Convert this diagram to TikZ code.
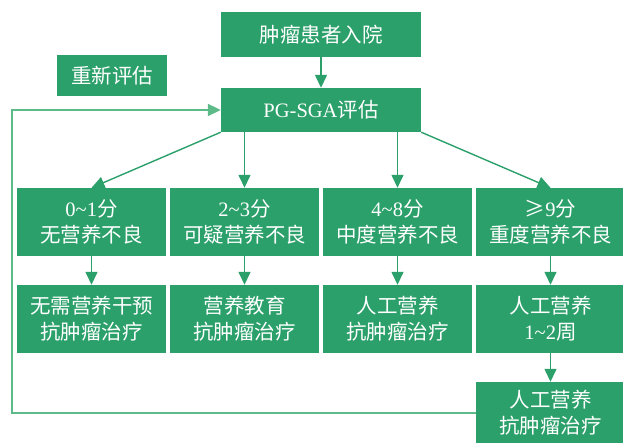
\documentclass[tikz,border=0pt]{standalone}
\usepackage{fontspec}
\setmainfont{Liberation Serif}
\newfontfamily\cjk{Noto Sans CJK SC}
\usetikzlibrary{arrows.meta}
\definecolor{boxgreen}{HTML}{2BA06A}
\definecolor{linegreen}{HTML}{2BA06A}
\definecolor{fbgreen}{HTML}{5DBB8A}
\begin{document}
\begin{tikzpicture}[x=1pt,y=-1pt,
  gbox/.style={rectangle,fill=boxgreen,text=white,inner sep=0pt,align=center,
    font=\fontsize{20.5}{26}\selectfont},
  arr/.style={draw=linegreen,line width=1.4pt,-{Triangle[length=13pt,width=12pt]}},
  fb/.style={draw=fbgreen,line width=2pt,-{Triangle[length=13pt,width=12pt]}}]
\useasboundingbox (0,0) rectangle (623,443);
\node[gbox,minimum width=200pt,minimum height=45pt] (top) at (321,34.5) {\cjk 肿瘤患者入院};
\node[gbox,minimum width=110pt,minimum height=41pt] (re) at (112,75.5) {\cjk 重新评估};
\node[gbox,minimum width=200pt,minimum height=44pt] (pg) at (321,110) {PG-SGA{\cjk 评估}};
\tikzset{rbox/.style={gbox,minimum width=149pt,minimum height=68pt}}
\node[rbox] (r1a) at (91.5,222) {0\textasciitilde1{\cjk 分}\\{\cjk 无营养不良}};
\node[rbox] (r1b) at (244.5,222) {2\textasciitilde3{\cjk 分}\\{\cjk 可疑营养不良}};
\node[rbox] (r1c) at (397.5,222) {4\textasciitilde8{\cjk 分}\\{\cjk 中度营养不良}};
\node[rbox] (r1d) at (550.5,222) {{\cjk ≥}9{\cjk 分}\\{\cjk 重度营养不良}};
\node[rbox] (r2a) at (91.5,319) {{\cjk 无需营养干预}\\{\cjk 抗肿瘤治疗}};
\node[rbox] (r2b) at (244.5,319) {{\cjk 营养教育}\\{\cjk 抗肿瘤治疗}};
\node[rbox] (r2c) at (397.5,319) {{\cjk 人工营养}\\{\cjk 抗肿瘤治疗}};
\node[rbox] (r2d) at (550.5,319) {{\cjk 人工营养}\\1\textasciitilde2{\cjk 周}};
\node[rbox,minimum height=62pt] (bot) at (550.5,413) {{\cjk 人工营养}\\{\cjk 抗肿瘤治疗}};
\coordinate (fbc) at (12,110);
\draw[arr] (top) -- (pg);
\draw[arr] (pg.south west) -- (r1a.north);
\draw[arr] (r1b.north |- pg.south) -- (r1b.north);
\draw[arr] (r1c.north |- pg.south) -- (r1c.north);
\draw[arr] (pg.south east) -- (r1d.north);
\draw[arr] (r1a) -- (r2a);
\draw[arr] (r1b) -- (r2b);
\draw[arr] (r1c) -- (r2c);
\draw[arr] (r1d) -- (r2d);
\draw[arr] (r2d) -- (bot);
\draw[fb] (bot.west) -| (fbc) -- (pg.west);
\end{tikzpicture}
\end{document}
